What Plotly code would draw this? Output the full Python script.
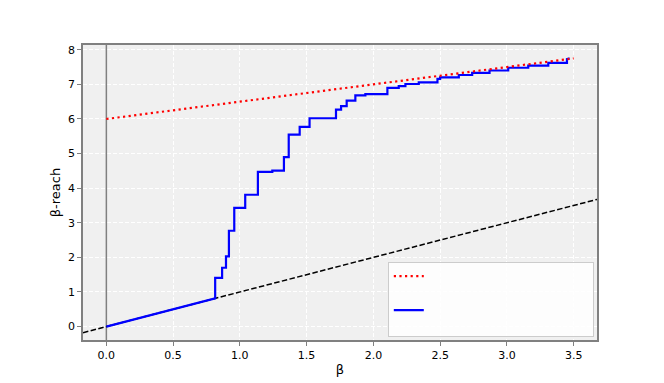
import plotly.graph_objects as go

# ---- data ----
x_range = [-0.175, 3.675]
y_range = [-0.3875, 8.1375]

# red dotted reference line: y = 6 + 0.5*beta
red_x = [0.0, 3.5]
red_y = [6.0, 7.75]

# black dashed diagonal: y = beta (across the whole axis)
diag_x = x_range
diag_y = x_range

# grey vertical reference at beta = 0
vline_x = [0.0, 0.0]
vline_y = y_range

# blue curve: linear start, then step jumps (x where the jump happens, new level)
blue_start_x = [0.0, 0.815]
blue_start_y = [0.0, 0.815]
step_x = [0.815, 0.867, 0.896, 0.918, 0.958, 1.04, 1.135, 1.243, 1.33, 1.366,
          1.448, 1.522, 1.72, 1.758, 1.80, 1.865, 1.94, 2.105, 2.19, 2.24,
          2.34, 2.48, 2.50, 2.64, 2.74, 2.87, 3.01, 3.16, 3.31, 3.45]
step_y = [1.41, 1.70, 2.03, 2.77, 3.43, 3.81, 4.47, 4.51, 4.90, 5.55,
          5.77, 6.02, 6.27, 6.37, 6.53, 6.68, 6.72, 6.90, 6.95, 7.01,
          7.06, 7.16, 7.20, 7.27, 7.33, 7.40, 7.48, 7.54, 7.62, 7.73]
blue_end_x = 3.47
blue_end_y = 7.75

xticks = [0.0, 0.5, 1.0, 1.5, 2.0, 2.5, 3.0, 3.5]
yticks = [0, 1, 2, 3, 4, 5, 6, 7, 8]

# build the blue path
bx = list(blue_start_x)
by = list(blue_start_y)
prev = blue_start_y[-1]
for sx, sy in zip(step_x, step_y):
    bx += [sx, sx]
    by += [prev, sy]
    prev = sy
bx.append(blue_end_x)
by.append(blue_end_y)

FONT = "DejaVu Sans"
PAD = "\u00a0" * 50

fig = go.Figure()
fig.add_trace(go.Scatter(x=vline_x, y=vline_y, mode="lines",
                         line=dict(color="#808080", width=1.5),
                         showlegend=False, hoverinfo="skip"))
fig.add_trace(go.Scatter(x=diag_x, y=diag_y, mode="lines",
                         line=dict(color="black", width=1.5, dash="5.5px,2.4px"),
                         showlegend=False, hoverinfo="skip"))
fig.add_trace(go.Scatter(x=bx, y=by, mode="lines",
                         line=dict(color="#0000ff", width=2.2),
                         name=PAD + "<br>\u00a0", legendgroup="b", legendrank=2))
fig.add_trace(go.Scatter(x=red_x, y=red_y, mode="lines",
                         line=dict(color="#ff0000", width=2.2, dash="2.2px,3.4px"),
                         name=PAD, legendgroup="a", legendrank=1))

axis_common = dict(
    showline=True, linecolor="#808080", linewidth=1.5, mirror=True,
    ticks="outside", ticklen=4, tickwidth=1, tickcolor="#808080",
    showgrid=True, gridcolor="white", gridwidth=1, griddash="4px,2px",
    zeroline=False, automargin=False,
    tickfont=dict(family=FONT, size=11, color="black"),
)

# the page body adds an 8px offset, so the figure is 8px smaller and margins shifted
fig.update_layout(
    width=656, height=375,
    margin=dict(l=75, r=67, t=37, b=43, autoexpand=False),
    paper_bgcolor="white", plot_bgcolor="#f0f0f0",
    font=dict(family=FONT, color="black"),
    xaxis=dict(range=x_range, tickvals=xticks, ticktext=[f"{v:.1f}" for v in xticks],
               title=dict(text="β", font=dict(family=FONT, size=13), standoff=4),
               **axis_common),
    yaxis=dict(range=y_range, tickvals=yticks, ticktext=[str(v) for v in yticks],
               title=dict(text="β-reach", font=dict(family=FONT, size=13), standoff=4),
               **axis_common),
    showlegend=True,
    legend=dict(x=0.593, y=0.264, xanchor="left", yanchor="top",
                bgcolor="rgba(255,255,255,0.85)", bordercolor="#cccccc", borderwidth=1,
                traceorder="grouped", tracegroupgap=15, valign="top",
                font=dict(family=FONT, size=10)),
)

fig.write_html("out.html")
